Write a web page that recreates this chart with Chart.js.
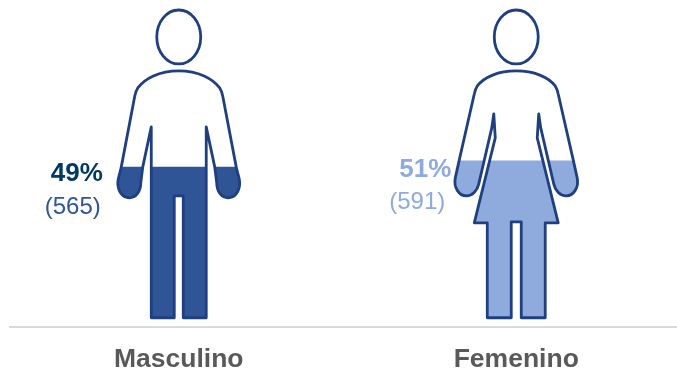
<!DOCTYPE html>
<html>
<head>
<meta charset="utf-8">
<title>Masculino / Femenino</title>
<script src="https://cdn.jsdelivr.net/npm/chart.js@4"></script>
<style>
    html, body { margin: 0; padding: 0; background: #fff; overflow: hidden; }
    #wrap { width: 677px; height: 371px; overflow: hidden; }
    #chart { filter: blur(0.4px); }
</style>
</head>
<body>
<div id="wrap"><canvas id="chart" width="686" height="371"></canvas></div>
<script>
var categories = ["Masculino", "Femenino"];
var percents = [49, 51];
var counts = [565, 591];

var fillColors = ["#2F5597", "#8FAADC"];
var percentColors = ["#003A63", "#8FAADC"];
var countColors = ["#2F5597", "#8FAADC"];
var outlineColor = "#1F3F7F";

// silhouettes, drawn around the bar centre; y runs from 10 (value 100) to 318 (value 0)
var headPath = "M22 37 A22 27 0 1 1 -22 37 A22 27 0 1 1 22 37 Z";
var bodyPaths = [
    "M0 71 C20 71 34 79 41 88 Q43 91 44 96 L57.5 167 C59 175 61 178 61 183 C61 192 56 198 49.5 198 C43 198 38 192 38 183 L36 167 L27.5 127 " +
    "L27.5 318 L4.5 318 L4.5 196 L-4.5 196 L-4.5 318 L-27.5 318 L-27.5 127 " +
    "L-36 167 L-38 183 C-38 192 -43 198 -49.5 198 C-56 198 -61 192 -61 183 C-61 178 -59 175 -57.5 167 L-44 96 Q-43 91 -41 88 C-34 79 -20 71 0 71 Z",
    "M0 71 C18 71 32 77 39 86 Q41 89 42 94 L57 160 L61 178 C63 188 57 196 50 196 C44 196 39 191 37.5 184 L24.5 128 L22.5 114 " +
    "L21 138 L42 223 L29 223 L29 318 L5 318 L5 222 L-5 222 L-5 318 L-29 318 L-29 223 L-42 223 L-21 138 L-22.5 114 L-24.5 128 " +
    "L-37.5 184 C-39 191 -44 196 -50 196 C-57 196 -63 188 -61 178 L-57 160 L-42 94 Q-41 89 -39 86 C-32 77 -18 71 0 71 Z"
];

// where the two text lines sit, relative to the bar centre and the top of the bar
var labelOffsets = [
    {percentRight: -76, countRight: -78, percentY: 7, countY: 40},
    {percentRight: -65, countRight: -71, percentY: 9, countY: 42}
];

function figureMatrix(chart, index)
{
    var bar = chart.getDatasetMeta(0).data[index];
    var y = chart.scales.y;
    var k = (y.getPixelForValue(0) - y.getPixelForValue(100)) / 308;
    return new DOMMatrix().translate(bar.x, y.getPixelForValue(100)).scale(k, k).translate(0, -10);
}

var pictogram = {
    id: "pictogram",
    beforeDatasetDraw: function(chart)
    {
        var clip = new Path2D();
        categories.forEach(function(name, i)
        {
            var m = figureMatrix(chart, i);
            clip.addPath(new Path2D(bodyPaths[i]), m);
            clip.addPath(new Path2D(headPath), m);
        });
        chart.ctx.save();
        chart.ctx.clip(clip);
    },
    afterDatasetDraw: function(chart)
    {
        chart.ctx.restore();
    },
    afterDatasetsDraw: function(chart)
    {
        var ctx = chart.ctx;
        categories.forEach(function(name, i)
        {
            ctx.save();
            ctx.setTransform(figureMatrix(chart, i));
            ctx.strokeStyle = outlineColor;
            ctx.lineWidth = 2.8;
            ctx.lineJoin = "round";
            ctx.stroke(new Path2D(headPath));
            ctx.stroke(new Path2D(bodyPaths[i]));
            ctx.restore();

            var bar = chart.getDatasetMeta(0).data[i];
            var pos = labelOffsets[i];
            ctx.save();
            ctx.textAlign = "right";
            ctx.textBaseline = "middle";
            ctx.font = "bold 26px 'Liberation Sans'";
            ctx.fillStyle = percentColors[i];
            ctx.fillText(percents[i] + "%", bar.x + pos.percentRight, bar.y + pos.percentY);
            ctx.font = "24px 'Liberation Sans'";
            ctx.fillStyle = countColors[i];
            ctx.fillText("(" + counts[i] + ")", bar.x + pos.countRight, bar.y + pos.countY);
            ctx.restore();
        });
    }
};

new Chart(document.getElementById("chart"), {
    type: "bar",
    data: {
        labels: categories,
        datasets: [{
            data: percents,
            backgroundColor: fillColors,
            borderWidth: 0,
            barThickness: 130
        }]
    },
    options: {
        responsive: false,
        animation: false,
        layout: {padding: {left: 10, right: 1, top: 10, bottom: 0}},
        plugins: {legend: {display: false}, tooltip: {enabled: false}},
        scales: {
            x: {
                afterFit: function(scale) { scale.height = 44; },
                grid: {display: false},
                border: {color: "#D9D9D9", width: 2},
                ticks: {
                    padding: 9,
                    color: "#595959",
                    font: {family: "'Liberation Sans'", size: 26.5, weight: "bold"}
                }
            },
            y: {display: false, min: -3, max: 100}
        }
    },
    plugins: [pictogram]
});
</script>
</body>
</html>
